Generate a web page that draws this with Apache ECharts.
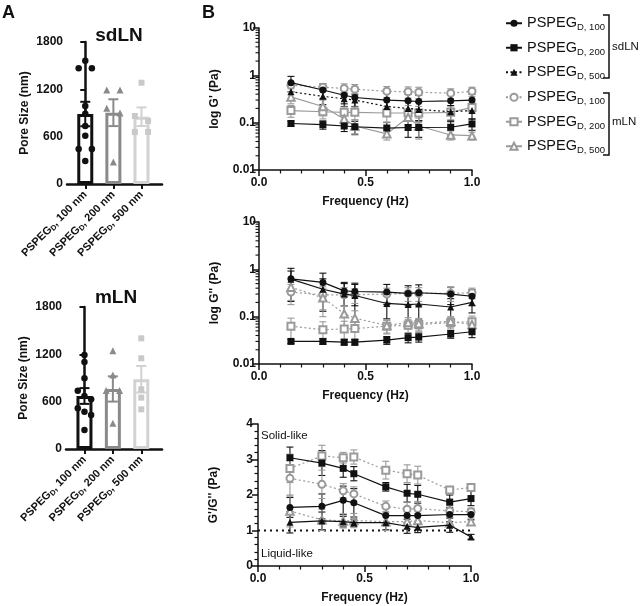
<!DOCTYPE html>
<html><head><meta charset="utf-8">
<script src="https://cdn.jsdelivr.net/npm/echarts@6/dist/echarts.min.js"></script>
<style>html,body{margin:0;padding:0;background:#fff}#c{width:640px;height:606px}</style>
</head><body><div id="c"></div>
<script>
// ---------------- Panel A data (pore size, nm) ----------------
const poreSizes = ['100', '200', '500'];
const poreTicks = [0, 600, 1200, 1800];
const sdLNMean = [887, 904, 853];
const sdLNSem = [155, 170, 118];
const sdLN100Pts = [1563, 1467, 1467, 990, 890, 735, 612, 443, 443, 291];
const sdLN200Pts = [1190, 1190, 960, 900, 280];
const sdLN500Pts = [1284, 862, 800, 660, 660];
const mLNMean = [672, 761, 884];
const mLNSem = [100, 160, 168];
const mLN100Pts = [1192, 1103, 896, 739, 672, 630, 516, 473, 431, 241];
const mLN200Pts = [1247, 938, 740, 740, 326];
const mLN500Pts = [1403, 1150, 757, 651, 503];

// ---------------- Panel B data ----------------
const freq = [0.15, 0.3, 0.4, 0.45, 0.6, 0.7, 0.75, 0.9, 1.0];
const freqTicks = [0, 0.5, 1];
const logTicks = [0.01, 0.1, 1, 10];
const ratioTicks = [0, 1, 2, 3, 4];
const seriesNames = ['sd100', 'sd200', 'sd500', 'm100', 'm200', 'm500'];
const legendSizes = ['100', '200', '500', '100', '200', '500'];

// G' (Pa)
const gp_sd100 = [0.70, 0.49, 0.38, 0.34, 0.30, 0.29, 0.28, 0.29, 0.30];
const gp_sd200 = [0.096, 0.091, 0.085, 0.082, 0.077, 0.079, 0.079, 0.080, 0.094];
const gp_sd500 = [0.45, 0.36, 0.32, 0.30, 0.22, 0.20, 0.19, 0.17, 0.18];
const gp_m100 = [0.62, 0.56, 0.53, 0.51, 0.46, 0.45, 0.44, 0.42, 0.46];
const gp_m200 = [0.18, 0.17, 0.165, 0.165, 0.16, 0.16, 0.16, 0.165, 0.21];
const gp_m500 = [0.35, 0.22, 0.12, 0.085, 0.058, 0.13, 0.085, 0.055, 0.053];
const gpErr_sd100 = [0.25, 0.17, 0.13, 0.12, 0.12, 0.11, 0.10, 0.10, 0.10];
const gpErr_sd200 = [0.012, 0.018, 0.02, 0.025, 0.025, 0.03, 0.03, 0.025, 0.025];
const gpErr_sd500 = [0.15, 0.12, 0.10, 0.10, 0.08, 0.08, 0.08, 0.06, 0.06];
const gpErr_m100 = [0.10, 0.10, 0.13, 0.13, 0.12, 0.12, 0.12, 0.10, 0.10];
const gpErr_m200 = [0.05, 0.05, 0.05, 0.05, 0.06, 0.07, 0.06, 0.05, 0.05];
const gpErr_m500 = [0.10, 0.08, 0.03, 0.03, 0.015, 0.04, 0.04, 0.012, 0.01];

// G'' (Pa)
const gpp_sd100 = [0.63, 0.53, 0.35, 0.34, 0.33, 0.31, 0.32, 0.30, 0.27];
const gpp_sd200 = [0.030, 0.030, 0.029, 0.029, 0.032, 0.036, 0.037, 0.043, 0.048];
const gpp_sd500 = [0.62, 0.38, 0.30, 0.28, 0.19, 0.18, 0.185, 0.16, 0.20];
const gpp_m100 = [0.33, 0.29, 0.29, 0.29, 0.30, 0.31, 0.31, 0.31, 0.32];
const gpp_m200 = [0.063, 0.053, 0.055, 0.056, 0.063, 0.066, 0.068, 0.075, 0.078];
const gpp_m500 = [0.42, 0.25, 0.115, 0.093, 0.065, 0.075, 0.072, 0.08, 0.068];
const gppErr_sd100 = [0.42, 0.30, 0.18, 0.17, 0.15, 0.14, 0.15, 0.12, 0.10];
const gppErr_sd200 = [0.003, 0.004, 0.004, 0.004, 0.006, 0.008, 0.008, 0.008, 0.012];
const gppErr_sd500 = [0.30, 0.25, 0.20, 0.20, 0.10, 0.10, 0.10, 0.08, 0.08];
const gppErr_m100 = [0.15, 0.15, 0.12, 0.10, 0.10, 0.10, 0.10, 0.10, 0.08];
const gppErr_m200 = [0.03, 0.025, 0.025, 0.025, 0.02, 0.02, 0.02, 0.02, 0.025];
const gppErr_m500 = [0.20, 0.15, 0.05, 0.04, 0.02, 0.02, 0.02, 0.02, 0.02];

// G'/G''
const rt_sd100 = [1.65, 1.68, 1.85, 1.78, 1.42, 1.42, 1.42, 1.45, 1.45];
const rt_sd200 = [3.05, 2.90, 2.75, 2.60, 2.23, 2.05, 2.02, 1.80, 1.90];
const rt_sd500 = [1.23, 1.27, 1.25, 1.22, 1.22, 1.12, 1.09, 1.15, 0.82];
const rt_m100 = [2.47, 2.30, 2.12, 2.03, 1.68, 1.60, 1.62, 1.55, 1.53];
const rt_m200 = [2.75, 3.10, 3.05, 3.07, 2.70, 2.60, 2.56, 2.14, 2.21];
const rt_m500 = [1.55, 1.30, 1.27, 1.28, 1.25, 1.25, 1.28, 1.22, 1.25];
const rtErr_sd100 = [0.28, 0.35, 0.40, 0.40, 0.20, 0.20, 0.20, 0.20, 0.15];
const rtErr_sd200 = [0.30, 0.35, 0.25, 0.20, 0.12, 0.25, 0.25, 0.20, 0.20];
const rtErr_sd500 = [0.30, 0.25, 0.15, 0.10, 0.20, 0.20, 0.15, 0.20, 0.07];
const rtErr_m100 = [0.50, 0.40, 0.20, 0.20, 0.15, 0.20, 0.20, 0.15, 0.10];
const rtErr_m200 = [0.40, 0.30, 0.15, 0.20, 0.25, 0.25, 0.25, 0.10, 0.10];
const rtErr_m500 = [0.45, 0.30, 0.20, 0.20, 0.25, 0.20, 0.20, 0.15, 0.10];
const ratioRef = 1;
const ratioRefExtent = [0, 1.07];

// ---------------- build ----------------
const FONT = '"Liberation Sans", Arial, Helvetica, sans-serif';
const BLACK = '#111111', GRAY = '#9a9a9a';
const barColors = ['#111111', '#8a8a8a', '#d2d2d2'];
const ptColors = ['#111111', '#8a8a8a', '#c9c9c9'];
const ptSymbols = ['circle', 'triangle', 'rect'];
const ptSizes = [6.5, 7, 6];

const chart = echarts.init(document.getElementById('c'), null, {renderer: 'canvas'});

function jitter(vals, idx) {
  const thr = 76;
  return vals.map((v, i) => {
    let n = 0, rank = 0;
    vals.forEach((w, j) => { if (Math.abs(w - v) < thr) { n++; if (j < i) rank++; } });
    const spread = n > 1 ? Math.min(0.47, 0.8 / (n - 1)) : 0;
    return [idx + (rank - (n - 1) / 2) * spread, v];
  });
}

const grids = [
  {left: 67, top: 42, width: 95, height: 142},
  {left: 66, top: 307, width: 96, height: 142},
  {left: 259, top: 28, width: 213, height: 142},
  {left: 259, top: 222, width: 213, height: 142},
  {left: 258, top: 424, width: 213, height: 142}
];

const boldLbl = {color: '#111', fontWeight: 'bold', fontSize: 12, fontFamily: FONT};

function catLabel(v) {
  const i = Math.round(v);
  return 'PSPEG{s|D}, ' + poreSizes[i] + ' nm';
}

const xAxes = [];
const yAxes = [];
[0, 1].forEach(g => {
  xAxes.push({
    type: 'value', gridIndex: g, min: -0.65, max: 2.73,
    axisLine: {show: true, onZero: false, lineStyle: {color: '#111', width: 2.5}},
    axisTick: {show: true, customValues: [0, 1, 2], length: 5, lineStyle: {width: 2, color: '#111'}},
    axisLabel: {customValues: [0, 1, 2], rotate: 45, margin: 9, formatter: catLabel,
      color: '#111', fontWeight: 'bold', fontSize: 11, fontFamily: FONT, lineHeight: 13,
      rich: {s: {fontSize: 7.5, fontWeight: 'bold', fontFamily: FONT, color: '#111', verticalAlign: 'bottom', lineHeight: 9}}},
    splitLine: {show: false}
  });
  yAxes.push({
    type: 'value', gridIndex: g, min: poreTicks[0], max: poreTicks[poreTicks.length - 1], interval: 600,
    name: 'Pore Size (nm)', nameLocation: 'middle', nameGap: 36,
    nameTextStyle: {fontWeight: 'bold', fontSize: 12, fontFamily: FONT, color: '#111'},
    axisLine: {show: true, lineStyle: {color: '#111', width: 2.5}},
    axisTick: {show: true, length: 5, lineStyle: {width: 2, color: '#111'}},
    axisLabel: Object.assign({margin: 4, formatter: v => String(v)}, boldLbl),
    splitLine: {show: false}
  });
});
[2, 3, 4].forEach(g => {
  xAxes.push({
    type: 'value', gridIndex: g, min: freqTicks[0], max: freqTicks[2], interval: 0.5,
    name: 'Frequency (Hz)', nameLocation: 'middle', nameGap: 26,
    nameTextStyle: {fontWeight: 'bold', fontSize: 12, fontFamily: FONT, color: '#111'},
    axisLine: {show: true, onZero: false, lineStyle: {color: '#111', width: 1.5}},
    axisTick: {show: true, length: 6, lineStyle: {width: 1.5, color: '#111'}},
    minorTick: {show: true, splitNumber: 5, length: 3.5, lineStyle: {width: 1.2, color: '#111'}},
    axisLabel: Object.assign({margin: 7, formatter: v => v.toFixed(1)}, boldLbl),
    splitLine: {show: false}, minorSplitLine: {show: false}
  });
});
['log G\' (Pa)', 'log G\'\' (Pa)'].forEach((nm, k) => {
  yAxes.push({
    type: 'log', logBase: 10, gridIndex: 2 + k, min: logTicks[0], max: logTicks[3],
    name: nm, nameLocation: 'middle', nameGap: 38,
    nameTextStyle: {fontWeight: 'bold', fontSize: 12, fontFamily: FONT, color: '#111'},
    axisLine: {show: true, onZero: false, lineStyle: {color: '#111', width: 1.5}},
    axisTick: {show: true, length: 6, lineStyle: {width: 1.5, color: '#111'}},
    axisLabel: Object.assign({margin: 3, formatter: v => String(+(+v).toPrecision(2))}, boldLbl),
    splitLine: {show: false}
  });
});
yAxes.push({
  type: 'value', gridIndex: 4, min: ratioTicks[0], max: ratioTicks[4], interval: 1,
  name: 'G\'/G\'\' (Pa)', nameLocation: 'middle', nameGap: 38,
  nameTextStyle: {fontWeight: 'bold', fontSize: 12, fontFamily: FONT, color: '#111'},
  axisLine: {show: true, onZero: false, lineStyle: {color: '#111', width: 1.5}},
  axisTick: {show: true, length: 6, lineStyle: {width: 1.5, color: '#111'}},
  minorTick: {show: true, splitNumber: 5, length: 3.5, lineStyle: {width: 1.2, color: '#111'}},
  axisLabel: Object.assign({margin: 5}, boldLbl),
  splitLine: {show: false}, minorSplitLine: {show: false}
});

const series = [];
const DOT = [2, 2.5];
const specs = [
  {color: BLACK, symbol: 'circle', size: 7},
  {color: BLACK, symbol: 'rect', size: 7},
  {color: BLACK, symbol: 'triangle', size: 7},
  {color: GRAY, symbol: 'emptyCircle', size: 7},
  {color: GRAY, symbol: 'emptyRect', size: 7},
  {color: GRAY, symbol: 'emptyTriangle', size: 7.5}
];
const panelVals = [
  [gp_sd100, gp_sd200, gp_sd500, gp_m100, gp_m200, gp_m500],
  [gpp_sd100, gpp_sd200, gpp_sd500, gpp_m100, gpp_m200, gpp_m500],
  [rt_sd100, rt_sd200, rt_sd500, rt_m100, rt_m200, rt_m500]
];
const panelErr = [
  [gpErr_sd100, gpErr_sd200, gpErr_sd500, gpErr_m100, gpErr_m200, gpErr_m500],
  [gppErr_sd100, gppErr_sd200, gppErr_sd500, gppErr_m100, gppErr_m200, gppErr_m500],
  [rtErr_sd100, rtErr_sd200, rtErr_sd500, rtErr_m100, rtErr_m200, rtErr_m500]
];
const panelLineTypes = [
  ['solid', 'solid', DOT, DOT, 'solid', 'solid'],
  ['solid', 'solid', 'solid', DOT, DOT, DOT],
  ['solid', 'solid', 'solid', DOT, DOT, DOT]
];

function errRender(color) {
  return function (params, api) {
    const x = api.value(0);
    const lo = api.coord([x, api.value(1)]);
    const hi = api.coord([x, api.value(2)]);
    const w = 3.5;
    const st = {stroke: color, lineWidth: 1.1};
    return {type: 'group', children: [
      {type: 'line', shape: {x1: lo[0], y1: lo[1], x2: hi[0], y2: hi[1]}, style: st},
      {type: 'line', shape: {x1: lo[0] - w, y1: lo[1], x2: lo[0] + w, y2: lo[1]}, style: st},
      {type: 'line', shape: {x1: hi[0] - w, y1: hi[1], x2: hi[0] + w, y2: hi[1]}, style: st}
    ]};
  };
}

// error bars (below lines)
for (let p = 0; p < 3; p++) {
  for (let s = 0; s < 6; s++) {
    const vals = panelVals[p][s], errs = panelErr[p][s];
    series.push({
      type: 'custom', xAxisIndex: 2 + p, yAxisIndex: 2 + p, z: 2, silent: true,
      data: freq.map((f, i) => [f, Math.max(vals[i] - errs[i], vals[i] * 0.25), vals[i] + errs[i]]),
      encode: {x: 0, y: [1, 2]},
      renderItem: errRender(specs[s].color)
    });
  }
}
// lines (panel B1 first so legend uses its styles)
for (let p = 0; p < 3; p++) {
  for (let s = 0; s < 6; s++) {
    const sp = specs[s];
    series.push({
      type: 'line', name: seriesNames[s], xAxisIndex: 2 + p, yAxisIndex: 2 + p, z: s < 3 ? 5 : 4,
      data: freq.map((f, i) => [f, panelVals[p][s][i]]),
      symbol: sp.symbol, symbolSize: sp.size, showSymbol: true,
      itemStyle: {color: sp.color, borderColor: sp.color, borderWidth: s < 3 ? 0 : 1.2},
      lineStyle: {color: sp.color, width: 1.2, type: panelLineTypes[p][s]},
      emphasis: {disabled: true}
    });
  }
}
// reference line G'/G'' = 1
series.push({
  type: 'line', xAxisIndex: 4, yAxisIndex: 4, z: 1, clip: false, symbol: 'none', silent: true,
  data: ratioRefExtent.map(x => [x, ratioRef]),
  lineStyle: {color: '#111', width: 2, type: [2, 4]}
});
// log-axis minor ticks (2..9 per decade)
const minorLogVals = [];
for (let e = -2; e < 1; e++) for (let m = 2; m < 10; m++) minorLogVals.push(m * Math.pow(10, e));
[2, 3].forEach(g => {
  series.push({
    type: 'custom', xAxisIndex: g, yAxisIndex: g, silent: true, clip: false, z: 6,
    data: minorLogVals.map(v => [0, v]),
    renderItem: (params, api) => {
      const pt = api.coord([0, api.value(1)]);
      return {type: 'line', shape: {x1: pt[0] - 3.5, y1: pt[1], x2: pt[0], y2: pt[1]},
        style: {stroke: '#111', lineWidth: 1.1}};
    }
  });
});

// Panel A: bars, error bars, points
[[sdLNMean, sdLNSem, [sdLN100Pts, sdLN200Pts, sdLN500Pts]],
 [mLNMean, mLNSem, [mLN100Pts, mLN200Pts, mLN500Pts]]].forEach((set, g) => {
  const [means, sems, pts] = set;
  series.push({
    type: 'bar', xAxisIndex: g, yAxisIndex: g, barWidth: 16, z: 2, silent: true,
    data: means.map((m, i) => ({value: [i, m], itemStyle: {color: '#fff', borderColor: barColors[i], borderWidth: 3}}))
  });
  series.push({
    type: 'custom', xAxisIndex: g, yAxisIndex: g, z: 3, silent: true,
    data: means.map((m, i) => [i, m - sems[i], m + sems[i]]),
    encode: {x: 0, y: [1, 2]},
    renderItem: (params, api) => {
      const i = api.value(0);
      const lo = api.coord([i, api.value(1)]);
      const hi = api.coord([i, api.value(2)]);
      const w = 5, st = {stroke: barColors[params.dataIndex], lineWidth: 2};
      return {type: 'group', children: [
        {type: 'line', shape: {x1: lo[0], y1: lo[1], x2: hi[0], y2: hi[1]}, style: st},
        {type: 'line', shape: {x1: lo[0] - w, y1: lo[1], x2: lo[0] + w, y2: lo[1]}, style: st},
        {type: 'line', shape: {x1: hi[0] - w, y1: hi[1], x2: hi[0] + w, y2: hi[1]}, style: st}
      ]};
    }
  });
  pts.forEach((arr, i) => {
    series.push({
      type: 'scatter', xAxisIndex: g, yAxisIndex: g, z: 4, silent: true,
      symbol: ptSymbols[i], symbolSize: ptSizes[i],
      itemStyle: {color: ptColors[i], opacity: 1},
      data: jitter(arr, i)
    });
  });
});

function legendFmt(name) {
  return 'PSPEG{s|D, ' + legendSizes[seriesNames.indexOf(name)] + '}';
}
const legendBase = {
  orient: 'vertical', left: 500, itemWidth: 16, itemHeight: 9, itemGap: 6, selectedMode: false,
  formatter: legendFmt,
  textStyle: {color: '#111', fontSize: 14.5, fontFamily: FONT, lineHeight: 18.5,
    rich: {s: {fontSize: 9.5, fontFamily: FONT, color: '#111', verticalAlign: 'bottom', lineHeight: 11}}}
};

const txt = (x, y, text, font, align) => ({
  type: 'text', x: x, y: y, silent: true,
  style: {text: text, font: font, fill: '#111', textAlign: align || 'left', textVerticalAlign: 'middle'}
});
const bracket = (y1, y2) => ({
  type: 'polyline', silent: true,
  shape: {points: [[603, y1], [609, y1], [609, y2], [603, y2]]},
  style: {stroke: '#111', lineWidth: 1.5, fill: null}
});

const option = {
  animation: false,
  textStyle: {fontFamily: FONT},
  grid: grids,
  xAxis: xAxes,
  yAxis: yAxes,
  legend: [
    Object.assign({data: seriesNames.slice(0, 3), top: 9}, legendBase),
    Object.assign({data: seriesNames.slice(3), top: 83}, legendBase)
  ],
  series: series,
  graphic: [
    txt(2, 13, 'A', 'bold 18px ' + FONT),
    txt(202, 13, 'B', 'bold 18px ' + FONT),
    txt(119, 36, 'sdLN', 'bold 19px ' + FONT, 'center'),
    txt(116, 298, 'mLN', 'bold 19px ' + FONT, 'center'),
    txt(261, 436, 'Solid-like', '11.5px ' + FONT),
    txt(261, 554, 'Liquid-like', '11.5px ' + FONT),
    bracket(15, 78),
    bracket(93, 155),
    txt(612, 47, 'sdLN', '11.5px ' + FONT),
    txt(612, 122, 'mLN', '11.5px ' + FONT)
  ]
};
chart.setOption(option);
</script>
</body></html>
